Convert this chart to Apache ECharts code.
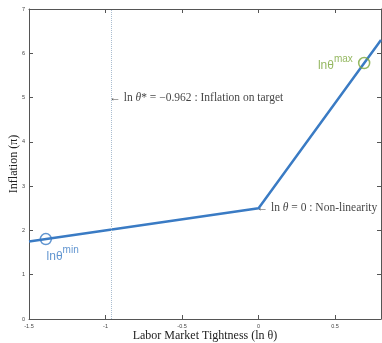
<!DOCTYPE html>
<html><head><meta charset="utf-8">
<script src="https://cdn.jsdelivr.net/npm/echarts@6/dist/echarts.min.js"></script>
<style>html,body{margin:0;padding:0;background:#fff}#c{width:382px;height:343px}</style>
</head><body><div id="c"></div>
<script>
// Data
const lineX = [-1.5, 0, 0.8];
const lineY = [1.75, 2.5, 6.3];
const thetaStar = -0.962;
const thetaMin = [-1.39, 1.805];
const thetaMax = [0.69, 5.78];
const xTicks = [-1.5, -1, -0.5, 0, 0.5];
const yTicks = [0, 1, 2, 3, 4, 5, 6, 7];

const blue = '#3a7bc4';
const green = '#7aa63a';
const serif = 'Liberation Serif';

const chart = echarts.init(document.getElementById('c'));
function axisCommon() {
  return {
    axisLine: {show: true, onZero: false, lineStyle: {color: '#555', width: 1}},
    axisTick: {show: true, inside: true, length: 4, lineStyle: {color: '#555'}},
    splitLine: {show: false}
  };
}
function supLabel(color, sup) {
  return {
    formatter: '{a|lnθ}{b|' + sup + '}',
    rich: {
      a: {fontFamily: 'Liberation Sans', fontSize: 12, color: color, verticalAlign: 'bottom', padding: [6, 0, 0, 0]},
      b: {fontFamily: 'Liberation Sans', fontSize: 10, color: color, verticalAlign: 'top', padding: [0, 0, 6, 0]}
    }
  };
}

chart.setOption({
  animation: false,
  grid: {left: 29, right: 1, top: 9, bottom: 24, containLabel: false, outerBoundsMode: 'none'},
  xAxis: [
    Object.assign({type: 'value', min: -1.5, max: 0.8, interval: 0.5,
      name: 'Labor Market Tightness (ln θ)', nameLocation: 'middle', nameGap: 11, nameMoveOverlap: false,
      nameTextStyle: {fontFamily: serif, fontSize: 12, color: '#222'},
      axisLabel: {fontSize: 5.5, color: '#444', margin: 4, showMaxLabel: false,
        formatter: v => xTicks.includes(Math.round(v*10)/10) ? String(Math.round(v*10)/10) : ''}}, axisCommon()),
    Object.assign({type: 'value', min: -1.5, max: 0.8, interval: 0.5, position: 'top',
      axisLabel: {show: false}}, axisCommon())
  ],
  yAxis: [
    Object.assign({type: 'value', min: 0, max: 7, interval: 1,
      name: 'Inflation (π)', nameLocation: 'middle', nameGap: 9, nameMoveOverlap: false,
      nameTextStyle: {fontFamily: serif, fontSize: 12, color: '#222'},
      axisLabel: {fontSize: 5.5, color: '#444', margin: 4,
        formatter: v => yTicks.includes(v) ? String(v) : ''}}, axisCommon()),
    Object.assign({type: 'value', min: 0, max: 7, interval: 1, position: 'right',
      axisLabel: {show: false}}, axisCommon())
  ],
  series: [
    {
      type: 'line', data: lineX.map((x, i) => [x, lineY[i]]), symbol: 'none',
      lineStyle: {color: blue, width: 2.5}, z: 3,
      markLine: {
        silent: true, symbol: 'none', label: {show: false},
        lineStyle: {color: '#a9bdd0', type: [1, 1], width: 1},
        data: [[{coord: [thetaStar, 0]}, {coord: [thetaStar, 7]}]]
      }
    },
    {
      type: 'scatter', data: [thetaMin], symbol: 'circle', symbolSize: 11,
      itemStyle: {color: 'rgba(0,0,0,0)', borderColor: blue, borderWidth: 1.5}, z: 4,
      label: Object.assign({show: true, position: [7, 12]}, supLabel(blue, 'min'))
    },
    {
      type: 'scatter', data: [thetaMax], symbol: 'circle', symbolSize: 11,
      itemStyle: {color: 'rgba(0,0,0,0)', borderColor: green, borderWidth: 1.5}, z: 4,
      label: Object.assign({show: true, position: [-40, -3]}, supLabel(green, 'max'))
    },
    {
      type: 'scatter', symbolSize: 0, silent: true,
      data: [
        {value: [thetaStar, 5], label: {formatter: '← ln {i|θ}* = −0.962 : Inflation on target'}},
        {value: [0, 2.5], label: {formatter: '← ln {i|θ} = 0 : Non-linearity'}}
      ],
      label: {show: true, position: 'right', distance: -2, fontFamily: serif, fontSize: 11.5, color: '#111',
        rich: {i: {fontFamily: serif, fontStyle: 'italic', fontSize: 11.5, color: '#111'}}}
    }
  ]
});
</script></body></html>
